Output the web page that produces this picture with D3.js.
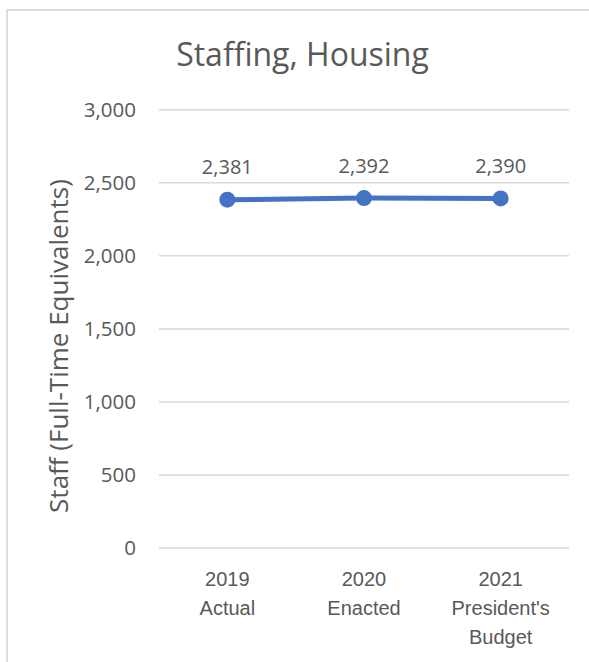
<!DOCTYPE html>
<html>
<head>
<meta charset="utf-8">
<script src="https://cdn.jsdelivr.net/npm/d3@7"></script>
<style>
  html, body { margin: 0; padding: 0; background: #ffffff; }
  svg { display: block; font-family: "Open Sans", "Noto Sans", sans-serif; }
</style>
</head>
<body>
<svg id="chart" width="589" height="662"></svg>
<script>
// Staffing levels for the Housing program
const categories = [["2019", "Actual"], ["2020", "Enacted"], ["2021", "President's", "Budget"]];
const staffFTE = [2381, 2392, 2390];
const yTicks = [0, 500, 1000, 1500, 2000, 2500, 3000];
const chartTitle = "Staffing, Housing";
const yAxisTitle = "Staff (Full-Time Equivalents)";

const svg = d3.select("#chart");
const textColor = "#595959";
const gridColor = "#d9d9d9";
const lineColor = "#4472c4";
const fmt = d3.format(",");

// chart frame (runs past the right and bottom edges)
svg.append("rect")
  .attr("x", 7).attr("y", 10)
  .attr("width", 640).attr("height", 700)
  .attr("fill", "#ffffff")
  .attr("stroke", gridColor)
  .attr("stroke-width", 1.75);

const keys = categories.map(c => c.join(" "));
const x = d3.scaleBand().domain(keys).range([159, 569]);
const y = d3.scaleLinear().domain([0, 3000]).range([547.5, 109.3]);
const cx = k => x(k) + x.bandwidth() / 2;

// horizontal gridlines + value axis labels
const yAxis = d3.axisLeft(y).tickValues(yTicks).tickFormat(fmt).tickSize(0).tickPadding(0);
const gy = svg.append("g").attr("transform", "translate(159,0)").call(yAxis);
gy.select(".domain").remove();
gy.selectAll(".tick line")
  .attr("x2", 569 - 159)
  .attr("stroke", gridColor)
  .attr("stroke-width", 1.5);
gy.selectAll(".tick text")
  .attr("x", -23)
  .attr("dy", "0.35em")
  .attr("fill", textColor)
  .style("font-size", "20.5px")
  .style("font-family", "\"Open Sans\", sans-serif");

// category labels (multi-line)
const xAxis = d3.axisBottom(x).tickSize(0).tickFormat("");
const gx = svg.append("g").attr("transform", "translate(0,547.5)").call(xAxis);
gx.select(".domain").remove();
gx.selectAll(".tick").each(function (k, i) {
  const t = d3.select(this).append("text")
    .attr("text-anchor", "middle")
    .attr("fill", textColor)
    .style("font-size", "20px");
  categories[i].forEach((line, j) => {
    t.append("tspan").attr("x", 0).attr("y", 38.5 + j * 29).text(line);
  });
});

// series line and markers
const pts = keys.map((k, i) => ({ k, v: staffFTE[i] }));
svg.append("path")
  .datum(pts)
  .attr("fill", "none")
  .attr("stroke", lineColor)
  .attr("stroke-width", 5)
  .attr("stroke-linejoin", "round")
  .attr("d", d3.line().x(d => cx(d.k)).y(d => y(d.v)));

svg.selectAll("circle.marker")
  .data(pts)
  .join("circle")
  .attr("class", "marker")
  .attr("cx", d => cx(d.k))
  .attr("cy", d => y(d.v))
  .attr("r", 8)
  .attr("fill", lineColor);

// data labels
svg.selectAll("text.value")
  .data(pts)
  .join("text")
  .attr("class", "value")
  .attr("x", d => cx(d.k))
  .attr("y", d => y(d.v) - 25.5)
  .attr("text-anchor", "middle")
  .attr("fill", textColor)
  .style("font-size", "20px")
  .text(d => fmt(d.v));

// title
svg.append("text")
  .attr("x", 302.5).attr("y", 66)
  .attr("text-anchor", "middle")
  .attr("fill", textColor)
  .style("font-size", "32px")
  .text(chartTitle);

// value axis title
svg.append("text")
  .attr("transform", "translate(68,346) rotate(-90)")
  .attr("text-anchor", "middle")
  .attr("fill", textColor)
  .style("font-size", "26px")
  .text(yAxisTitle);
</script>
</body>
</html>
